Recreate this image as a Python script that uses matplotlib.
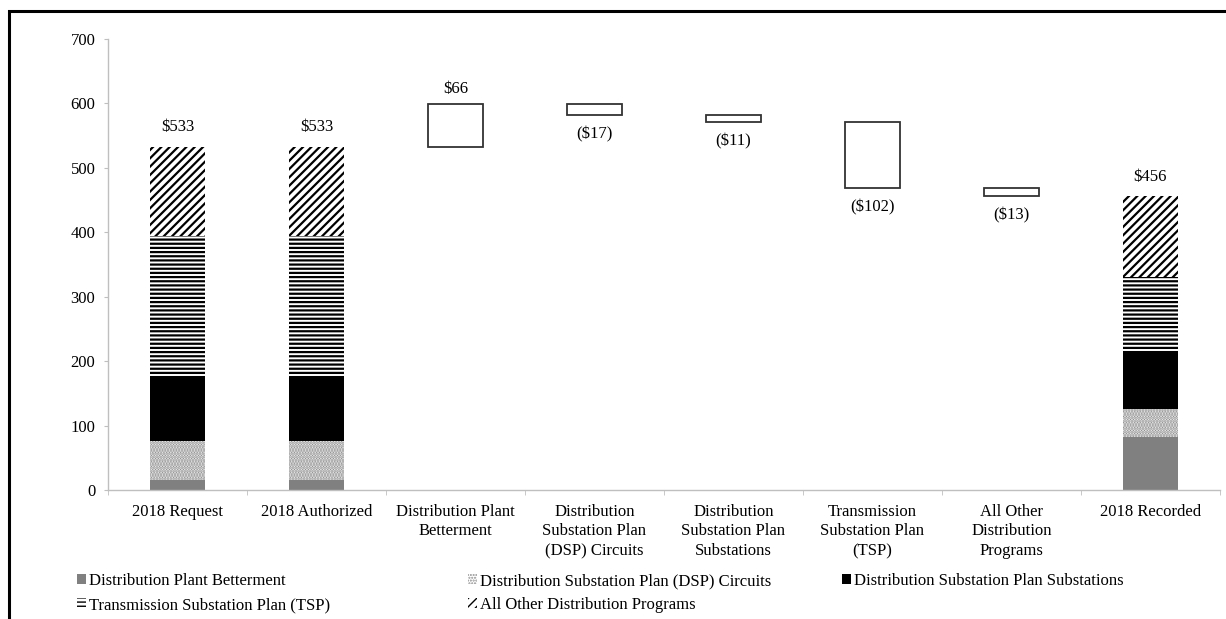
import matplotlib
matplotlib.use("Agg")
import matplotlib.pyplot as plt
from matplotlib.patches import Patch, Rectangle
import numpy as np

plt.rcParams["font.family"] = ["Liberation Serif", "DejaVu Serif"]
plt.rcParams["font.size"] = 12

categories = [
    "2018 Request",
    "2018 Authorized",
    "Distribution Plant\nBetterment",
    "Distribution\nSubstation Plan\n(DSP) Circuits",
    "Distribution\nSubstation Plan\nSubstations",
    "Transmission\nSubstation Plan\n(TSP)",
    "All Other\nDistribution\nPrograms",
    "2018 Recorded",
]

programs = [
    "Distribution Plant Betterment",
    "Distribution Substation Plan (DSP) Circuits",
    "Distribution Substation Plan Substations",
    "Transmission Substation Plan (TSP)",
    "All Other Distribution Programs",
]

request = [16, 60, 101, 217, 139]
authorized = [16, 60, 101, 217, 139]
changes = [66, -17, -11, -102, -13]
recorded = [82, 43, 90, 115, 126]

# fill / hatch per program
styles = [
    dict(facecolor="#808080", edgecolor="#808080", hatch=None),
    dict(facecolor="white", edgecolor="#8a8a8a", hatch="......"),
    dict(facecolor="black", edgecolor="black", hatch=None),
    dict(facecolor="white", edgecolor="black", hatch="----"),
    dict(facecolor="white", edgecolor="black", hatch="////"),
]

fig = plt.figure(figsize=(12.26, 6.19), dpi=100)
ax = fig.add_axes([0.088, 0.2084, 0.907, 0.7286])

x = np.arange(len(categories))
width = 0.4
stack_idx = [0, 1, 7]
stacks = [request, authorized, recorded]

for i, vals in zip(stack_idx, stacks):
    bottom = 0
    for v, st in zip(vals, styles):
        with plt.rc_context({"hatch.linewidth": 1.6}):
            ax.bar(x[i], v, width, bottom=bottom, facecolor=st["facecolor"],
                   edgecolor=st["edgecolor"], hatch=st["hatch"], linewidth=0)
        bottom += v
    ax.annotate(f"${bottom}", (x[i], bottom), xytext=(0, 14),
                textcoords="offset points", ha="center", va="center")

# floating change boxes
level = sum(authorized)
for i, d in zip(range(2, 7), changes):
    lo = min(level, level + d)
    ax.bar(x[i], abs(d), width, bottom=lo, facecolor="white",
           edgecolor="#333333", linewidth=1.3)
    if d >= 0:
        ax.annotate(f"${d}", (x[i], lo + abs(d)), xytext=(0, 11),
                    textcoords="offset points", ha="center", va="center")
    else:
        ax.annotate(f"(${-d})", (x[i], lo), xytext=(0, -14),
                    textcoords="offset points", ha="center", va="center")
    level += d

ax.set_xlim(-0.5, len(categories) - 0.5)
ax.set_ylim(0, 700)
ax.set_yticks(range(0, 701, 100))
ax.set_xticks(x)
ax.set_xticklabels(categories, linespacing=1.3)
ax.set_xticks(np.arange(-0.5, len(categories), 1), minor=True)
ax.tick_params(axis="x", which="major", length=0, pad=10)
ax.tick_params(axis="x", which="minor", length=3.5, color="#bfbfbf")
ax.tick_params(axis="y", length=3, color="#bfbfbf", pad=6)
for s in ["top", "right"]:
    ax.spines[s].set_visible(False)
for s in ["left", "bottom"]:
    ax.spines[s].set_color("#bfbfbf")
    ax.spines[s].set_linewidth(1.0)

# legend entries placed one by one
legend_pos = [(0.063, 0.0614), (0.382, 0.0614), (0.687, 0.0614),
              (0.063, 0.0226), (0.382, 0.0226)]
for name, st, (lx, ly) in zip(programs, styles, legend_pos):
    with plt.rc_context({"hatch.linewidth": 1.2}):
        h = Patch(facecolor=st["facecolor"], edgecolor=st["edgecolor"],
                  hatch=st["hatch"], linewidth=0)
    fig.legend([h], [name], loc="center left", bbox_to_anchor=(lx, ly),
               frameon=False, handlelength=0.55, handleheight=0.55,
               handletextpad=0.15, borderpad=0, borderaxespad=0)

# outer frame
fig.patches.append(Rectangle((9 / 1226, -0.1), 2.0, 1.1 - 11 / 619,
                             transform=fig.transFigure, fill=False,
                             edgecolor="black", linewidth=2.2))

fig.savefig("out.png", dpi=100)
